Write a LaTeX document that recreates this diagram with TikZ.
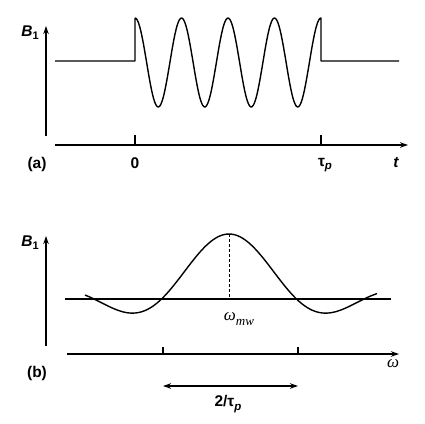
\documentclass[tikz,border=0pt]{standalone}
\usepackage{fontspec}
\setmainfont{Liberation Serif}
\setsansfont{Liberation Sans}
\usetikzlibrary{arrows.meta}
\begin{document}
\begin{tikzpicture}[x=1pt,y=-1pt, line width=1.4pt,
  ax/.style={-{Stealth[length=8pt,width=5.5pt]}},
  dbl/.style={{Stealth[length=8pt,width=5.5pt]}-{Stealth[length=8pt,width=5.5pt]}},
  lab/.style={font=\sffamily\bfseries\fontsize{15.5}{17}\selectfont, inner sep=0pt},
  sub/.style={font=\fontsize{11.5}{12}\selectfont},
  mlab/.style={font=\itshape\fontsize{17}{19}\selectfont, inner sep=0pt}]
\useasboundingbox (0,0) rectangle (425,423);
% ---------- panel (a) ----------
\coordinate (ya0) at (46,136);
\coordinate (ya1) at (46,26);
\coordinate (ta0) at (55,145);
\coordinate (ta1) at (408,145);
\coordinate (tk0) at (135,135);
\coordinate (tk0b) at (135,145);
\coordinate (tk1) at (321,135);
\coordinate (tk1b) at (321,145);
\draw[ax] (ya0) -- (ya1);
\draw[ax] (ta0) -- (ta1);
\draw (tk0) -- (tk0b);
\draw (tk1) -- (tk1b);
\draw[line join=round] (55,61) -- (135,61) -- (135,18)
  plot[domain=135:321, samples=160, smooth] (\x, {62.5 - 44.5*cos(7.7419*(\x-135))})
  -- (321,61) -- (399,61);
\node[lab] (B1a) at (30,33) {\itshape B\raisebox{-0.35ex}{\upshape\fontsize{11}{12}\selectfont 1}};
\node[lab] (la) at (37,164) {(a)};
\node[lab] (l0) at (135,163) {0};
\node[lab] (ltp) at (325,165) {τ\raisebox{-0.4ex}{\itshape\fontsize{11.5}{12}\selectfont p}};
\node[lab] (lt) at (396,163) {\itshape t};
% ---------- panel (b) ----------
\coordinate (yb0) at (46,346);
\coordinate (yb1) at (46,236);
\coordinate (fa0) at (67,354);
\coordinate (fa1) at (399,354);
\coordinate (fk0) at (163,347);
\coordinate (fk0b) at (163,354);
\coordinate (fk1) at (298,347);
\coordinate (fk1b) at (298,354);
\draw[ax] (yb0) -- (yb1);
\draw[ax] (fa0) -- (fa1);
\draw (fk0) -- (fk0b);
\draw (fk1) -- (fk1b);
\draw (65,299) -- (391,299);
\draw plot[domain=85:377, samples=151, smooth]
  (\x, {299 - 65*sin(2.6667*(\x-229.01))/(0.046542*(\x-229.01))});
\coordinate (pk) at (229,234);
\coordinate (pkb) at (229,299);
\draw[line width=1pt, dash pattern=on 3pt off 2pt] (pk) -- (pkb);
\node[mlab] (wmw) at (239,319) {ω\raisebox{-0.6ex}{\fontsize{13}{14}\selectfont mw}};
\node[lab] (B1b) at (30,243) {\itshape B\raisebox{-0.35ex}{\upshape\fontsize{11}{12}\selectfont 1}};
\node[lab] (lb) at (37,373) {(b)};
\node[mlab] (lw) at (393,364) {ω};
\coordinate (da0) at (163,386);
\coordinate (da1) at (298,386);
\draw[dbl] (da0) -- (da1);
\node[lab] (l2tp) at (228,404) {2/τ\raisebox{-0.4ex}{\itshape\fontsize{11.5}{12}\selectfont p}};
\end{tikzpicture}
\end{document}
